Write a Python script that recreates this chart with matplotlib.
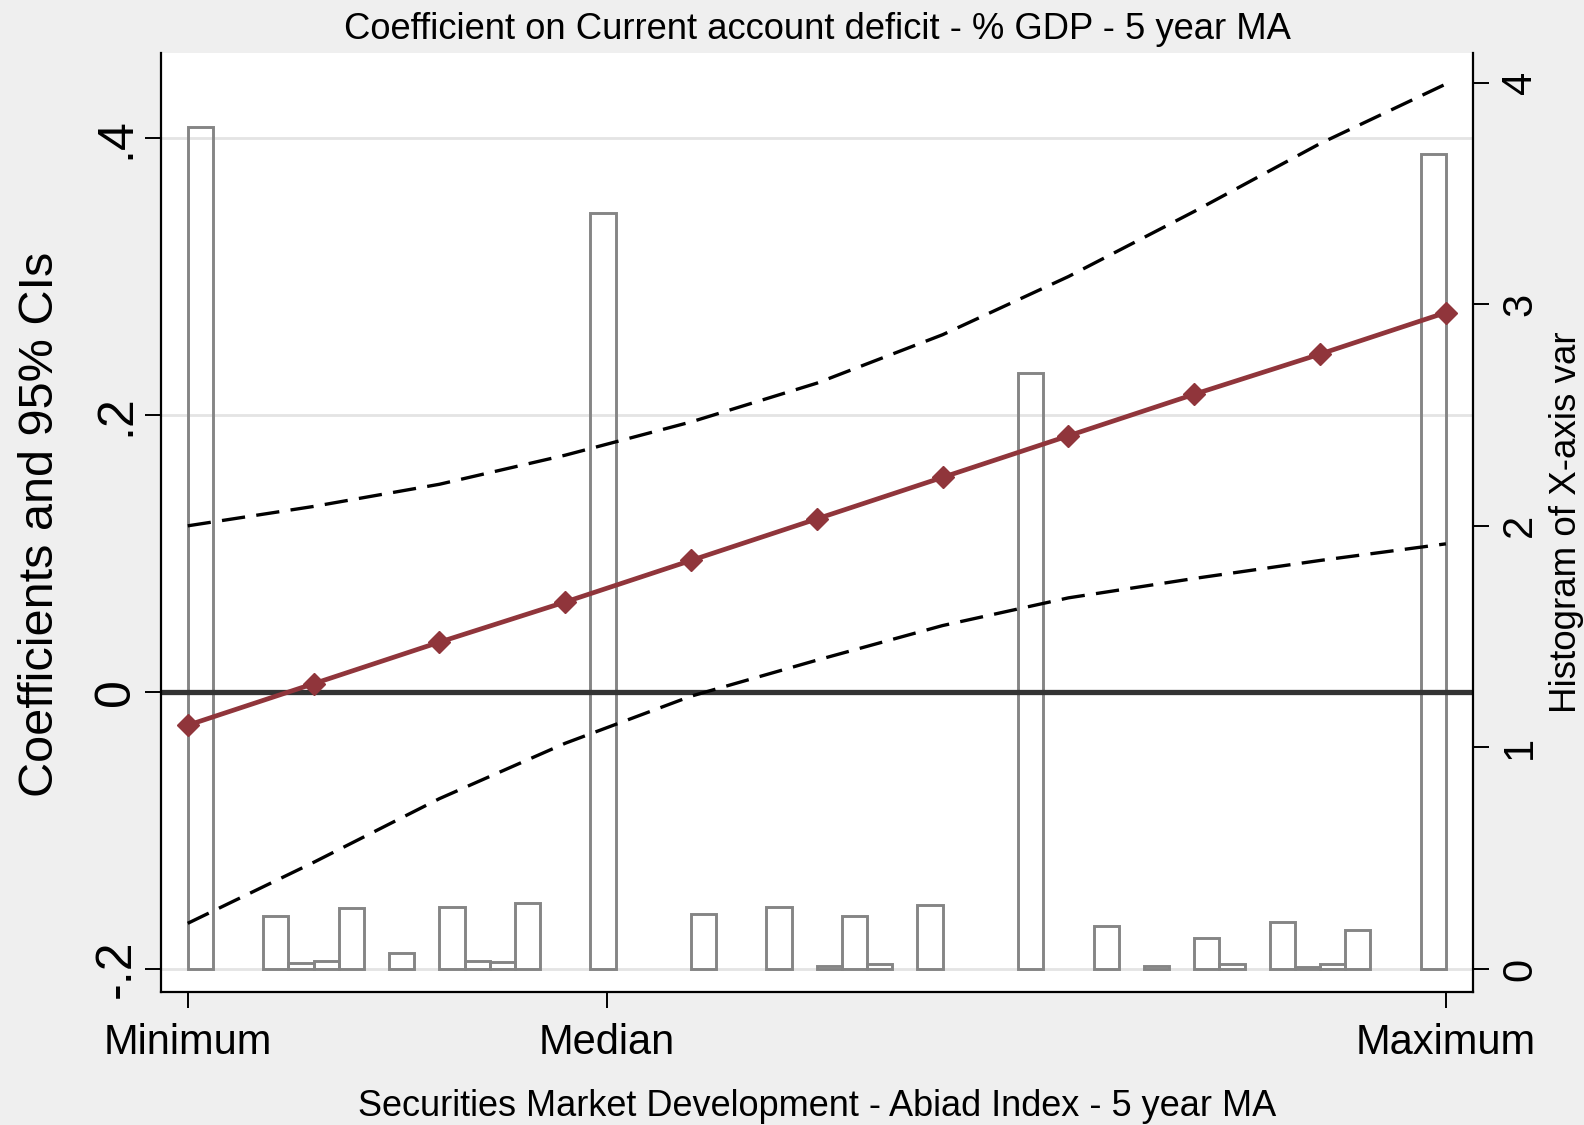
import numpy as np
import matplotlib
matplotlib.use('Agg')
import matplotlib.pyplot as plt

plt.rcParams['font.family'] = ['Liberation Sans', 'DejaVu Sans']

# evaluation points (Minimum .. Maximum of the x var, 11 steps)
x_points = np.arange(11)
coef = [-0.024, 0.006, 0.036, 0.065, 0.095, 0.125, 0.155, 0.185, 0.215, 0.244, 0.274]
ci_upper = [0.120, 0.134, 0.150, 0.171, 0.195, 0.223, 0.258, 0.300, 0.347, 0.396, 0.439]
ci_lower = [-0.167, -0.123, -0.077, -0.037, -0.003, 0.023, 0.048, 0.068, 0.082, 0.095, 0.107]

# histogram of x var (bin left edge, height)
hist_left = [0.0, 0.6, 0.8, 1.0, 1.2, 1.6, 2.0, 2.2, 2.4, 2.6, 3.2, 4.0, 4.6, 5.0, 5.2,
             5.4, 5.8, 6.6, 7.2, 7.6, 8.0, 8.2, 8.6, 8.8, 9.0, 9.2, 9.8]
hist_height = [3.80, 0.239, 0.026, 0.036, 0.274, 0.071, 0.280, 0.036, 0.032, 0.296, 3.41,
               0.247, 0.281, 0.014, 0.240, 0.021, 0.287, 2.69, 0.194, 0.014, 0.141, 0.021,
               0.212, 0.010, 0.021, 0.176, 3.68]
bin_width = 0.2

xtick_pos = [0, 3.33, 10]
xtick_labels = ['Minimum', 'Median', 'Maximum']
ytick_pos = [-0.2, 0, 0.2, 0.4]
ytick_labels = ['-.2', '0', '.2', '.4']
y2tick_pos = [0, 1, 2, 3, 4]

fig = plt.figure(figsize=(15.84, 11.25), dpi=100, facecolor='#efefef')
ax = fig.add_axes([0.1016, 0.1182, 0.8283, 0.8347])
ax.set_facecolor('white')
ax2 = ax.twinx()

# right axis only gives the histogram scale
ax2.set_ylim(-0.104, 4.134)
ax2.set_yticks(y2tick_pos)
ax2.set_yticklabels([str(v) for v in y2tick_pos])
ax2.tick_params(axis='y', length=11.5, width=1.4, labelsize=30, pad=8, labelrotation=90)
for lab in ax2.get_yticklabels():
    lab.set_va('center')

# histogram bars drawn in the left axes but on the right-axis scale
ax.bar(hist_left, hist_height, width=bin_width, align='edge', fill=False,
       edgecolor='#858585', linewidth=2.1, transform=ax2.transData, zorder=1)

# coefficients on left axis
ax.set_yticks(ytick_pos)
ax.set_yticklabels(ytick_labels)
ax.grid(axis='y', color='#e4e4e4', linewidth=2.0)
ax.set_axisbelow(True)
ax.axhline(0, color='#333333', linewidth=3.8, zorder=2)
ax.plot(x_points, ci_upper, color='black', linewidth=2.4, dashes=(7, 3.4), zorder=3)
ax.plot(x_points, ci_lower, color='black', linewidth=2.4, dashes=(7, 3.4), zorder=3)
ax.plot(x_points, coef, color='#90353B', linewidth=3.4, marker='D', markersize=11.5,
        zorder=4)
ax.set_ylim(-0.2166, 0.4614)
ax.set_xlim(-0.213, 10.215)
ax.set_xticks(xtick_pos)
ax.set_xticklabels(xtick_labels)
ax.tick_params(axis='y', length=11.5, width=1.4, labelsize=36, pad=4, labelrotation=90)
for lab in ax.get_yticklabels():
    lab.set_va('center')
ax.tick_params(axis='x', length=11.5, width=1.4, labelsize=30, pad=11)

for a in (ax, ax2):
    a.spines['top'].set_visible(False)
    for s in ('left', 'bottom', 'right'):
        a.spines[s].set_linewidth(1.6)
ax.spines['right'].set_visible(False)
ax2.spines['left'].set_visible(False)
ax2.spines['bottom'].set_visible(False)

fig.text(0.5158, 0.9657, 'Coefficient on Current account deficit - % GDP - 5 year MA',
         fontsize=26.2, ha='center', va='baseline')
fig.text(0.5158, 0.0079, 'Securities Market Development - Abiad Index - 5 year MA',
         fontsize=26, ha='center', va='baseline')
fig.text(0.0335, 0.5342, 'Coefficients and 95% CIs', fontsize=35, rotation=90,
         rotation_mode='anchor', ha='center', va='baseline')
fig.text(0.995, 0.5360, 'Histogram of X-axis var', fontsize=26.5, rotation=90,
         rotation_mode='anchor', ha='center', va='baseline')

fig.savefig('out.png', dpi=100, facecolor=fig.get_facecolor())
